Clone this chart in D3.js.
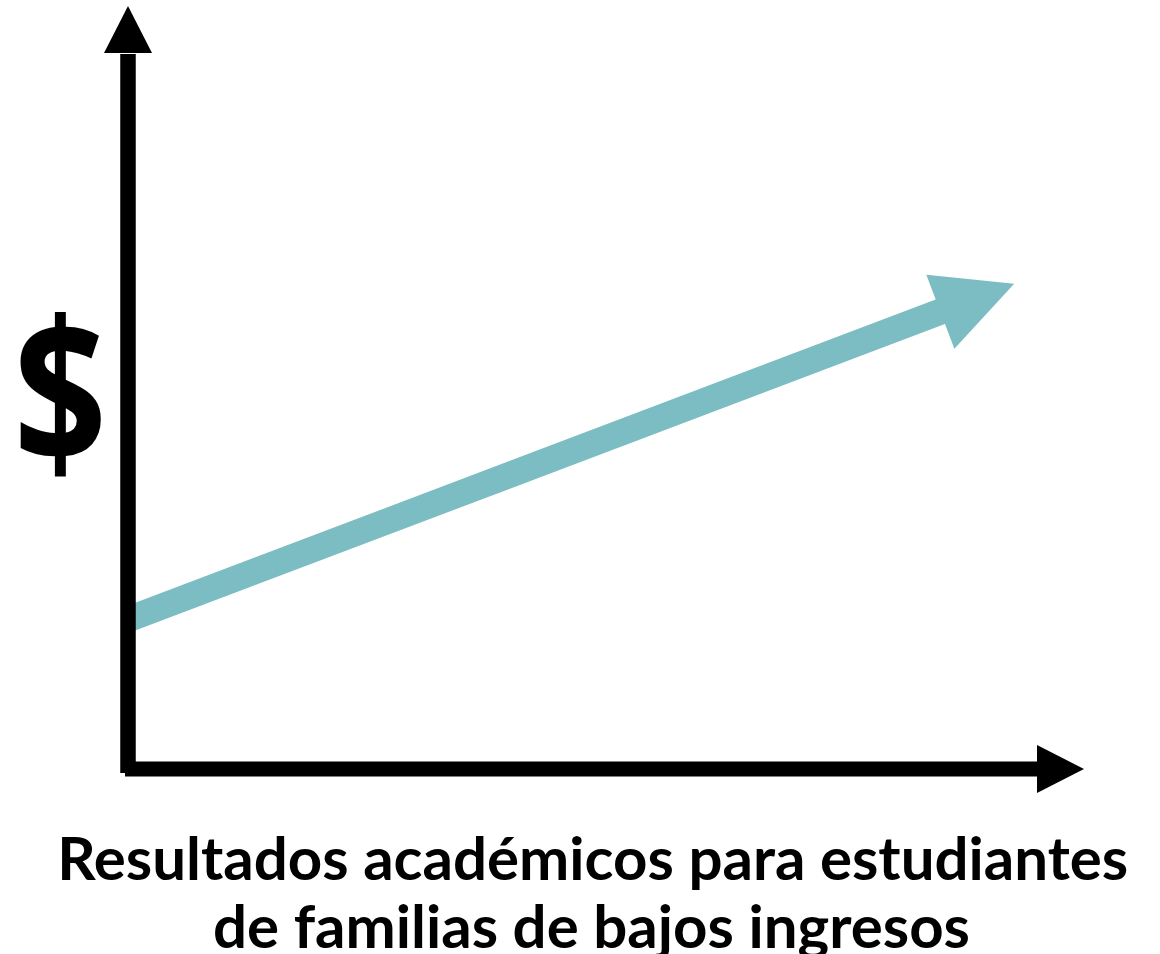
<!DOCTYPE html>
<html>
<head>
<meta charset="utf-8">
<script src="https://cdn.jsdelivr.net/npm/d3@7"></script>
<style>
  html, body { margin: 0; padding: 0; background: #ffffff; }
  svg { display: block; }
</style>
</head>
<body>
<svg id="chart" width="1160" height="954"></svg>
<script>
// ---- data (conceptual chart) ----
const xDomain = [0, 100];
const yDomain = [0, 100];
const trendX = [0, 92.7];      // start at y-axis, arrow tip
const trendY = [19.6, 63.6];   // rising trend
const yLabel = "$";
const xLabelLines = ["Resultados académicos para estudiantes", "de familias de bajos ingresos"];

const W = 1160, H = 954;
const svg = d3.select("#chart");

const x = d3.scaleLinear().domain(xDomain).range([128, 1084]);
const y = d3.scaleLinear().domain(yDomain).range([769, 6]);

const teal = "#7bbdc2";

// ---- trend arrow ----
const p0 = [x(trendX[0]), y(trendY[0])];
const p1 = [x(trendX[1]), y(trendY[1])];
const dx = p1[0] - p0[0], dy = p1[1] - p0[1];
const len = Math.hypot(dx, dy);
const ux = dx / len, uy = dy / len;
const headLen = 79, headHalf = 39.6, shaftW = 26;
const base = [p1[0] - ux * headLen, p1[1] - uy * headLen];
const nx = -uy, ny = ux;

svg.append("line")
  .attr("x1", p0[0]).attr("y1", p0[1])
  .attr("x2", base[0] + ux * 2).attr("y2", base[1] + uy * 2)
  .attr("stroke", teal).attr("stroke-width", shaftW);

svg.append("path")
  .attr("d", d3.line()([
    [base[0] + nx * headHalf, base[1] + ny * headHalf],
    p1,
    [base[0] - nx * headHalf, base[1] - ny * headHalf]
  ]) + "Z")
  .attr("fill", teal);

// ---- axes ----
const ax = x(0), ay = y(0);
svg.append("line")
  .attr("x1", ax).attr("x2", ax)
  .attr("y1", ay + 4).attr("y2", y(100) + 48)
  .attr("stroke", "#000").attr("stroke-width", 15.5);
svg.append("path")
  .attr("d", d3.line()([[ax - 24, y(100) + 47], [ax, y(100)], [ax + 24, y(100) + 47]]) + "Z")
  .attr("fill", "#000");
svg.append("line")
  .attr("x1", ax - 3).attr("x2", x(100) - 46)
  .attr("y1", ay).attr("y2", ay)
  .attr("stroke", "#000").attr("stroke-width", 15);
svg.append("path")
  .attr("d", d3.line()([[x(100) - 47, ay - 24], [x(100), ay], [x(100) - 47, ay + 24]]) + "Z")
  .attr("fill", "#000");

// ---- labels ----
const font = "Lato, 'Open Sans', sans-serif";

// "$" label: render, measure ink via canvas, then fit into target box
const dollarFont = "'Open Sans', Lato, sans-serif";
const fs = 200;
const cv = document.createElement("canvas");
const ctx = cv.getContext("2d");
ctx.font = `700 ${fs}px 'Open Sans', Lato, sans-serif`;
const m = ctx.measureText(yLabel);
const inkL = -m.actualBoundingBoxLeft, inkR = m.actualBoundingBoxRight;
const inkT = -m.actualBoundingBoxAscent, inkB = m.actualBoundingBoxDescent;
const tx0 = 20, ty0 = 312, tw = 81, th = 165;
const sx = tw / (inkR - inkL), sy = th / (inkB - inkT);
svg.append("text")
  .attr("x", 0).attr("y", 0)
  .attr("font-family", dollarFont).attr("font-weight", 700)
  .attr("font-size", fs)
  .attr("fill", "#000")
  .attr("transform", `translate(${tx0 - inkL * sx},${ty0 - inkT * sy}) scale(${sx},${sy})`)
  .text(yLabel);

const lineSpecs = [
  { cx: 592.7, base: 880, w: 1071 },
  { cx: 591.5, base: 948, w: 757 }
];
xLabelLines.forEach((t, i) => {
  svg.append("text")
    .attr("x", lineSpecs[i].cx).attr("y", lineSpecs[i].base)
    .attr("text-anchor", "middle")
    .attr("font-family", font).attr("font-weight", 700)
    .attr("font-size", 60)
    .attr("textLength", lineSpecs[i].w)
    .attr("lengthAdjust", "spacingAndGlyphs")
    .attr("fill", "#000")
    .text(t);
});
</script>
</body>
</html>
